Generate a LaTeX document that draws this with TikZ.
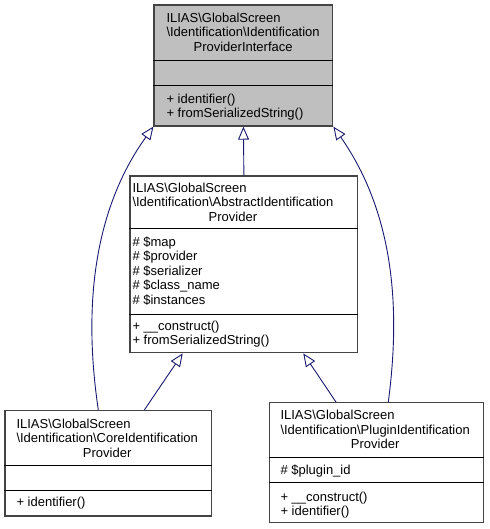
\documentclass[tikz,border=0pt]{standalone}
\usepackage{fontspec}
\setmainfont{Liberation Sans}
\usetikzlibrary{arrows.meta}
\definecolor{edgecol}{HTML}{191970}
\definecolor{boxline}{HTML}{444444}
\definecolor{ifill}{HTML}{BFBFBF}
\tikzset{
  umlbox/.style={draw=boxline, line width=1.3pt, fill=white, rectangle, inner sep=0pt},
  divider/.style={draw=black, line width=1pt},
  txt/.style={anchor=north west, inner sep=0pt, font=\fontsize{13}{14.5}\selectfont},
  inh/.style={draw=edgecol, line width=0.9pt, -{Triangle[open, length=13pt, width=11pt, fill=white]}}
}
\begin{document}
\begin{tikzpicture}[x=1pt, y=-1pt]
\useasboundingbox (0,0) rectangle (489,529);
% boxes
\node[umlbox, fill=ifill, minimum width=178.7pt, minimum height=121pt] (iface) at (243.4,65.5) {};
\node[umlbox, minimum width=227.7pt, minimum height=176.7pt] (abstract) at (243.9,264.4) {};
\node[umlbox, minimum width=206.7pt, minimum height=105.3pt] (core) at (108.3,463.3) {};
\node[umlbox, minimum width=214.2pt, minimum height=119.6pt] (plugin) at (376.4,462.5) {};
% dividers
\draw[divider] (iface.west |- 0,61) -- (iface.east |- 0,61);
\draw[divider] (iface.west |- 0,86) -- (iface.east |- 0,86);
\draw[divider] (abstract.west |- 0,228.3) -- (abstract.east |- 0,228.3);
\draw[divider] (abstract.west |- 0,314) -- (abstract.east |- 0,314);
\draw[divider] (core.west |- 0,465) -- (core.east |- 0,465);
\draw[divider] (core.west |- 0,490.3) -- (core.east |- 0,490.3);
\draw[divider] (plugin.west |- 0,457.7) -- (plugin.east |- 0,457.7);
\draw[divider] (plugin.west |- 0,482.7) -- (plugin.east |- 0,482.7);
% texts
\node[txt] (ifaceh) at (166.3,11.7) {\begin{tabular}{@{}l@{}}ILIAS\textbackslash GlobalScreen\\\textbackslash Identification\textbackslash Identification\\\multicolumn{1}{@{}c@{}}{ProviderInterface}\end{tabular}};
\node[txt] (ifacem) at (166.3,92.7) {\begin{tabular}{@{}l@{}}+ identifier()\\+ fromSerializedString()\end{tabular}};
\node[txt] (abstracth) at (132.3,181.7) {\begin{tabular}{@{}l@{}}ILIAS\textbackslash GlobalScreen\\\textbackslash Identification\textbackslash AbstractIdentification\\\multicolumn{1}{@{}c@{}}{Provider}\end{tabular}};
\node[txt] (abstracta) at (132.3,236) {\begin{tabular}{@{}l@{}}\# \$map\\\# \$provider\\\# \$serializer\\\# \$class\_name\\\# \$instances\end{tabular}};
\node[txt] (abstractm) at (132.3,320) {\begin{tabular}{@{}l@{}}+ \_\_construct()\\+ fromSerializedString()\end{tabular}};
\node[txt] (coreh) at (16.3,417.7) {\begin{tabular}{@{}l@{}}ILIAS\textbackslash GlobalScreen\\\textbackslash Identification\textbackslash CoreIdentification\\\multicolumn{1}{@{}c@{}}{Provider}\end{tabular}};
\node[txt] (corem) at (16.3,496) {\begin{tabular}{@{}l@{}}+ identifier()\end{tabular}};
\node[txt] (pluginh) at (280.3,409.3) {\begin{tabular}{@{}l@{}}ILIAS\textbackslash GlobalScreen\\\textbackslash Identification\textbackslash PluginIdentification\\\multicolumn{1}{@{}c@{}}{Provider}\end{tabular}};
\node[txt] (plugina) at (280.3,464.3) {\begin{tabular}{@{}l@{}}\# \$plugin\_id\end{tabular}};
\node[txt] (pluginm) at (280.3,491) {\begin{tabular}{@{}l@{}}+ \_\_construct()\\+ identifier()\end{tabular}};
% connectors
\draw[inh] (abstract.north) -- (iface.south);
\draw[inh] (core.north -| 98.3,0) .. controls (88,340) and (82,226) .. (iface.south west);
\draw[inh] (plugin.north -| 388.3,0) .. controls (397,335) and (403,226) .. (iface.south east);
\draw[inh] (core.north -| 144.3,0) -- (abstract.south -| 182.7,0);
\draw[inh] (plugin.north -| 336,0) -- (abstract.south -| 303.3,0);
\end{tikzpicture}
\end{document}
